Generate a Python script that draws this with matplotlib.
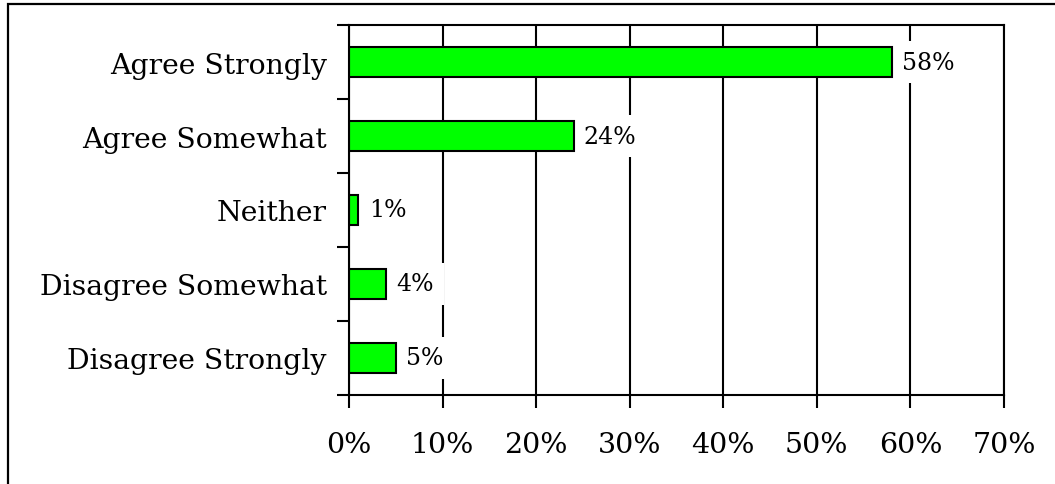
import matplotlib
matplotlib.use("Agg")
import matplotlib.pyplot as plt
from matplotlib.patches import Rectangle
import numpy as np

CATEGORIES = ["Agree Strongly", "Agree Somewhat", "Neither",
              "Disagree Somewhat", "Disagree Strongly"]
VALUES = [58, 24, 1, 4, 5]
XTICKS = [0, 10, 20, 30, 40, 50, 60, 70]

plt.rcParams["font.family"] = ["DejaVu Serif"]

fig = plt.figure(figsize=(10.55, 4.85), dpi=100)
ax = fig.add_axes([349 / 1055, 1 - 396 / 485, (1004 - 349) / 1055, (396 - 26) / 485])

# outer frame around the whole chart
fig.patches.append(Rectangle((8 / 1055, -0.02), 1.0, 1 - 5 / 485 + 0.02,
                             transform=fig.transFigure, fill=False,
                             edgecolor="black", linewidth=1.6))

y = np.arange(len(CATEGORIES))[::-1]
ax.barh(y, VALUES, height=0.4, color="#00ff00", edgecolor="black",
        linewidth=1.5, zorder=5)

for yi, v in zip(y, VALUES):
    ax.text(v + 1.1, yi, f"{v}%", va="center", ha="left", fontsize=17,
            zorder=4, bbox=dict(facecolor="white", edgecolor="none", pad=7))

ax.set_xlim(0, 70)
ax.set_ylim(-0.5, len(CATEGORIES) - 0.5)
ax.set_xticks(XTICKS)
ax.set_xticklabels([f"{t}%" for t in XTICKS], fontsize=20.5)
ax.set_yticks(y)
ax.set_yticklabels(CATEGORIES, fontsize=20.3)
ax.tick_params(axis="y", length=0, pad=16)
ax.set_yticks(np.arange(-0.5, len(CATEGORIES), 1.0), minor=True)
ax.tick_params(axis="y", which="minor", length=9, width=1.5, direction="out")
ax.tick_params(axis="x", length=9, width=1.5, direction="out", pad=17)
ax.grid(axis="x", color="black", linewidth=1.5, zorder=1)
ax.set_axisbelow(True)
for s in ax.spines.values():
    s.set_linewidth(1.5)
    s.set_color("black")
    s.set_zorder(6)

fig.savefig("out.png", dpi=100)
